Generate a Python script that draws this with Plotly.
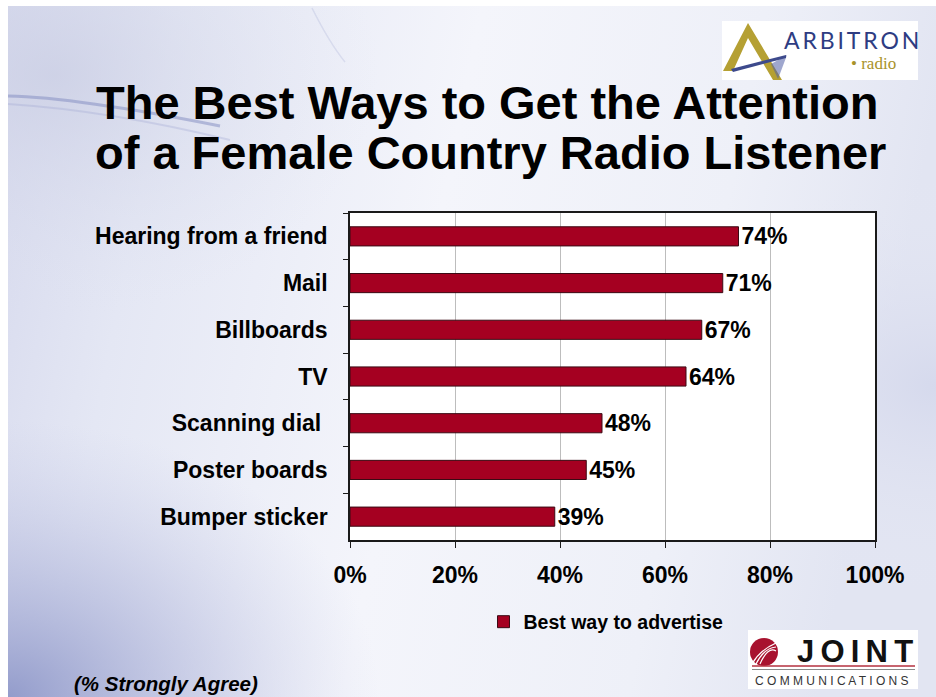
import base64
import plotly.graph_objects as go

# ---------------- data ----------------
categories = ["Hearing from a friend", "Mail", "Billboards", "TV",
              "Scanning dial ", "Poster boards", "Bumper sticker"]
values = [74, 71, 67, 64, 48, 45, 39]
series_name = "Best way to advertise"
x_ticks = [0, 20, 40, 60, 80, 100]
x_tick_text = ["0%", "20%", "40%", "60%", "80%", "100%"]

# ---------------- geometry helpers (pixel -> paper) ----------------
W, H = 936, 697
L, R, T, B = 350, 875, 213, 540
PW, PH = R - L, B - T


def px(x):
    return (x - L) / PW


def py(y):
    return (B - y) / PH


FONT = "Liberation Sans, Arial, sans-serif"

# ---------------- background (slide) ----------------
bg_svg = f'''<svg xmlns="http://www.w3.org/2000/svg" width="{W}" height="{H}" viewBox="0 0 {W} {H}">
<defs>
<linearGradient id="a" x1="0" y1="0" x2="1" y2="0.15">
<stop offset="0" stop-color="#d6d9ed"/>
<stop offset="0.18" stop-color="#e4e7f4"/>
<stop offset="0.5" stop-color="#f4f5fb"/>
<stop offset="0.8" stop-color="#eef0f8"/>
<stop offset="1" stop-color="#e2e5f2"/>
</linearGradient>
<radialGradient id="b" cx="0.0" cy="1.0" r="0.4">
<stop offset="0" stop-color="#8f98c9" stop-opacity="0.95"/>
<stop offset="0.55" stop-color="#adb3d9" stop-opacity="0.45"/>
<stop offset="1" stop-color="#c4c9e6" stop-opacity="0"/>
</radialGradient>
<radialGradient id="c" cx="0.05" cy="0.1" r="0.35">
<stop offset="0" stop-color="#c9cde3" stop-opacity="0.7"/>
<stop offset="1" stop-color="#dfe2f0" stop-opacity="0"/>
</radialGradient>
<radialGradient id="d" cx="1.0" cy="0.55" r="0.3">
<stop offset="0" stop-color="#d4d8ec" stop-opacity="0.9"/>
<stop offset="1" stop-color="#e6e8f4" stop-opacity="0"/>
</radialGradient>
</defs>
<rect width="{W}" height="{H}" fill="#ffffff"/>
<rect x="8" y="6" width="{W-8}" height="{H-6}" fill="url(#a)"/>
<rect x="8" y="6" width="{W-8}" height="{H-6}" fill="url(#c)"/>
<rect x="8" y="6" width="{W-8}" height="{H-6}" fill="url(#b)"/>
<rect x="8" y="6" width="{W-8}" height="{H-6}" fill="url(#d)"/>
<path d="M8,96 C60,97 130,108 220,126" stroke="#7f89c0" stroke-width="3" fill="none" opacity="0.5"/>
<path d="M8,104 C70,108 140,118 230,140" stroke="#9aa2cf" stroke-width="2" fill="none" opacity="0.3"/>
<path d="M312,8 C322,28 332,46 345,62" stroke="#9aa2cf" stroke-width="1.5" fill="none" opacity="0.25"/>
</svg>'''
bg_uri = "data:image/svg+xml;base64," + base64.b64encode(bg_svg.encode()).decode()

# ---------------- chart ----------------
fig = go.Figure()
fig.add_trace(go.Bar(
    y=categories, x=values, orientation="h", name=series_name,
    width=0.41,
    marker=dict(color="#a50021", line=dict(color="#3b0a14", width=1)),
    text=[f"{v}%" for v in values], texttemplate="%{text}",
    textposition="outside", constraintext="none",
    textfont=dict(family=FONT, size=23, color="#000000", weight="bold"),
    cliponaxis=False, showlegend=True, hoverinfo="skip",
))

shapes = [
    # white plot area
    dict(type="rect", xref="paper", yref="paper", x0=0, x1=1, y0=0, y1=1,
         fillcolor="#ffffff", line=dict(width=0), layer="below"),
    # ARBITRON logo box
    dict(type="rect", xref="paper", yref="paper", x0=px(722), x1=px(918), y0=py(80), y1=py(21),
         fillcolor="#ffffff", line=dict(width=0)),
    # gold A
    dict(type="path", xref="paper", yref="paper",
         path=f"M{px(748)},{py(23)} L{px(782)},{py(80)} L{px(773)},{py(80)} L{px(748)},{py(38)} "
              f"L{px(733)},{py(71)} L{px(723)},{py(71)} Z",
         fillcolor="#b5a033", line=dict(width=0)),
    # dotted area
    dict(type="path", xref="paper", yref="paper",
         path=f"M{px(771)},{py(64)} L{px(787)},{py(55)} L{px(778)},{py(79)} Z",
         fillcolor="rgba(80,95,165,0.55)", line=dict(width=0)),
    # navy crossbar
    dict(type="path", xref="paper", yref="paper",
         path=f"M{px(731)},{py(69)} L{px(786)},{py(55)} L{px(786)},{py(58)} L{px(733)},{py(72)} Z",
         fillcolor="#3d4a8c", line=dict(width=0)),
    # JOINT logo box
    dict(type="rect", xref="paper", yref="paper", x0=px(748), x1=px(918), y0=py(689), y1=py(630),
         fillcolor="#ffffff", line=dict(width=0)),
    dict(type="circle", xref="paper", yref="paper", x0=px(750), x1=px(778), y0=py(666), y1=py(638),
         fillcolor="#a8122f", line=dict(width=0)),
    dict(type="line", xref="paper", yref="paper", x0=px(752), x1=px(915), y0=py(666), y1=py(666),
         line=dict(color="#b4303f", width=1.5)),
    dict(type="line", xref="paper", yref="paper", x0=px(752), x1=px(915), y0=py(669.5), y1=py(669.5),
         line=dict(color="#8a8a8a", width=1)),
]
# white arcs on the red ball
for off in [0, 4, 8]:
    shapes.append(dict(
        type="path", xref="paper", yref="paper",
        path=f"M{px(752 + off)},{py(664)} Q{px(760 + off)},{py(650 - off / 2)} {px(776)},{py(643 + off)}",
        line=dict(color="#ffffff", width=1.2)))

annotations = [
    dict(text="The Best Ways to Get the Attention", x=px(487), y=py(103),
         font=dict(family=FONT, size=47, color="#000000", weight="bold")),
    dict(text="of a Female Country Radio Listener", x=px(490), y=py(152),
         font=dict(family=FONT, size=47, color="#000000", weight="bold")),
    dict(text="(% Strongly Agree)", x=px(166), y=py(683),
         font=dict(family=FONT, size=20.5, color="#000000", weight="bold", style="italic")),
    dict(text="A\u2009R\u2009B\u2009I\u2009T\u2009R\u2009O\u2009N", x=px(851), y=py(40),
         font=dict(family="Lato, Liberation Sans, sans-serif", size=23, color="#2e3c82")),
    dict(text="\u2022 radio", x=px(873), y=py(63),
         font=dict(family="Liberation Serif, serif", size=17, color="#a8922a")),
    dict(text="J\u2009O\u2009I\u2009N\u2009T", x=px(855), y=py(651),
         font=dict(family=FONT, size=31, color="#111111", weight="bold")),
    dict(text="C O M M U N I C A T I O N S", x=px(832), y=py(681),
         font=dict(family=FONT, size=12, color="#333333")),
]
for a in annotations:
    a.update(xref="paper", yref="paper", showarrow=False, xanchor="center", yanchor="middle")

fig.update_layout(
    width=W, height=H,
    margin=dict(l=L, r=W - R, t=T, b=H - B),
    paper_bgcolor="#ffffff", plot_bgcolor="#ffffff",
    font=dict(family=FONT, color="#000000"),
    images=[dict(source=bg_uri, xref="paper", yref="paper",
                 x=-L / PW, y=1 + T / PH, sizex=W / PW, sizey=H / PH,
                 xanchor="left", yanchor="top", sizing="stretch", layer="below")],
    shapes=shapes,
    annotations=annotations,
    legend=dict(orientation="h", x=px(606), y=py(622), xanchor="center", yanchor="middle",
                bgcolor="rgba(0,0,0,0)", itemwidth=30,
                font=dict(family=FONT, size=19.5, color="#000000", weight="bold")),
    hovermode=False,
)
fig.update_xaxes(range=[0, 100], tickmode="array", tickvals=x_ticks, ticktext=x_tick_text,
                 showgrid=True, gridcolor="#bdbdbd", gridwidth=1,
                 showline=True, linecolor="#1a1a1a", linewidth=1.5, mirror=True,
                 ticks="outside", ticklen=6, tickcolor="#1a1a1a", zeroline=False,
                 ticklabelstandoff=8,
                 tickfont=dict(family=FONT, size=23, color="#000000", weight="bold"))
fig.update_yaxes(autorange="reversed", showline=True, linecolor="#1a1a1a", linewidth=1.5,
                 mirror=True, ticks="outside", ticklen=5, tickcolor="#1a1a1a",
                 tickson="boundaries", showgrid=False, ticklabelstandoff=16,
                 tickfont=dict(family=FONT, size=23, color="#000000", weight="bold"))

fig.write_html("out.html")
